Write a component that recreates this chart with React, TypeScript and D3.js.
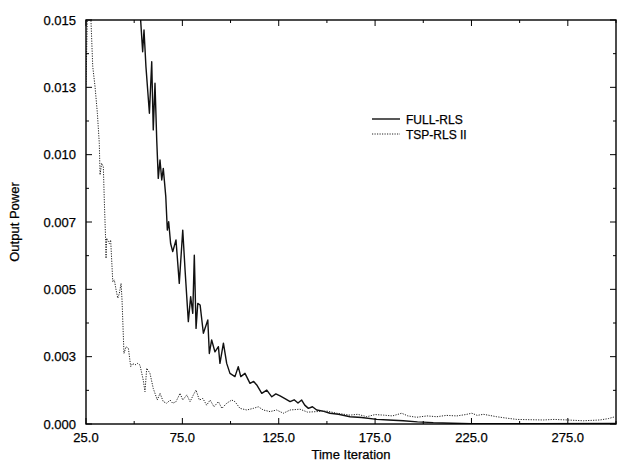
import React from 'react';
import * as d3 from 'd3';

// Values: [time iteration, output power]
const fullRls: [number, number][] = [
  [50, 0.017], [53, 0.0155], [53.4, 0.01494], [54.4, 0.01382], [55.1, 0.01463],
  [56.1, 0.01327], [57.9, 0.01154], [59.1, 0.01345], [59.9, 0.01092], [60.8, 0.01265],
  [61.7, 0.01054], [62.5, 0.00912], [63.4, 0.0098], [64.3, 0.00906], [65.1, 0.00949],
  [66.4, 0.00844], [67.2, 0.0072], [67.9, 0.00751], [68.9, 0.0067], [70, 0.0064],
  [71.7, 0.00683], [73.4, 0.00522], [75.2, 0.0072], [76.4, 0.00572], [78.1, 0.0038],
  [79.3, 0.00473], [80.4, 0.00411], [81.2, 0.00627], [82.1, 0.00355], [83, 0.00448],
  [84.2, 0.00442], [85.9, 0.00337], [88.2, 0.00386], [89, 0.00262], [90.2, 0.00312],
  [91.9, 0.00268], [93.7, 0.00287], [94.5, 0.00225], [96.3, 0.003], [98, 0.00225],
  [99.7, 0.00188], [102.3, 0.00176], [104, 0.00213], [105.3, 0.00176], [107.5, 0.00188],
  [110.1, 0.00151], [112, 0.00158], [113.6, 0.00145], [116.2, 0.00114], [118.8, 0.00126],
  [121.4, 0.00101], [123.5, 0.00112], [125.7, 0.00104], [128, 0.00095], [130.9, 0.00083],
  [133, 0.0009], [135, 0.00078], [136.9, 0.00089], [138.5, 0.0007], [140.4, 0.00058],
  [142.5, 0.00064], [144.7, 0.00052], [148, 0.00048], [151.6, 0.0004], [156, 0.00036],
  [162, 0.00027], [168, 0.00024], [175.9, 0.00017], [182, 0.00015], [189.6, 0.00012],
  [197, 0.00008], [205.2, 0.00005], [215, 0.00003], [225, 0.00001], [260, 0.00001],
  [300, 0.00002],
];

const tspRls: [number, number][] = [
  [25, 0.0126], [26, 0.0162], [27.6, 0.01494], [28.5, 0.01327], [29.7, 0.01252],
  [30.9, 0.01154], [31.9, 0.01042], [32.3, 0.00925], [33.1, 0.00968], [34, 0.00955],
  [34.5, 0.0083], [35.2, 0.0068], [35.4, 0.00615], [35.7, 0.0069], [37.1, 0.0067],
  [37.8, 0.00683], [38.9, 0.00528], [39.7, 0.00535], [40.6, 0.00498], [41.5, 0.00467],
  [42.3, 0.00485], [43.2, 0.00522], [43.7, 0.0046], [44.7, 0.00262], [45.8, 0.00287],
  [47, 0.00281], [48.2, 0.00213], [49.2, 0.00225], [50.4, 0.00219], [51.6, 0.00225],
  [53, 0.00219], [54.7, 0.00163], [55.6, 0.0012], [56.5, 0.00207], [58.2, 0.00188],
  [59.9, 0.00132], [62, 0.00089], [63.4, 0.00114], [65.1, 0.00083], [66.9, 0.00077],
  [68.6, 0.00089], [70, 0.00077], [71.7, 0.00083], [73.8, 0.00114], [75.2, 0.00089],
  [77.3, 0.00108], [79, 0.00083], [80.7, 0.00108], [82.1, 0.00126], [83.8, 0.00089],
  [85.6, 0.00095], [87.6, 0.0007], [89.4, 0.00089], [91.4, 0.00064], [93.7, 0.00083],
  [95.5, 0.00058], [98, 0.00077], [100.6, 0.00089], [102.3, 0.00083], [104.9, 0.00058],
  [108.4, 0.00052], [111.8, 0.00058], [114.4, 0.00064], [117, 0.00052], [120.5, 0.00046],
  [123.9, 0.00052], [127.4, 0.0004], [130.9, 0.00052], [136, 0.00055], [140, 0.00044],
  [144.7, 0.00046], [150, 0.00048], [155, 0.0004], [162, 0.00033], [166, 0.00036],
  [170.7, 0.00027], [175, 0.00035], [179.3, 0.00033], [184, 0.0003], [188.8, 0.0004],
  [192, 0.0003], [196.6, 0.00025], [202, 0.0003], [207, 0.00027], [212, 0.00032],
  [217.4, 0.0003], [222, 0.00035], [225.2, 0.0004], [228, 0.00032], [231.2, 0.00036],
  [238.1, 0.00027], [243, 0.00022], [248.5, 0.00017], [255, 0.00016], [262.3, 0.00015],
  [268, 0.00017], [274.5, 0.00015], [283.1, 0.00012], [291.7, 0.00015], [296, 0.0002],
  [299.5, 0.00027],
];

const xTicks = [25, 50, 75, 100, 125, 150, 175, 200, 225, 250, 275, 300];
const xTickLabels = ['25.0', '75.0', '125.0', '175.0', '225.0', '275.0'];
const xLabelValues = [25, 75, 125, 175, 225, 275];
const yTicks = [0, 0.00125, 0.0025, 0.00375, 0.005, 0.00625, 0.0075, 0.00875, 0.01, 0.01125, 0.0125, 0.01375, 0.015];
const yTickLabels = ['0.000', '0.003', '0.005', '0.007', '0.010', '0.013', '0.015'];
const yLabelValues = [0, 0.0025, 0.005, 0.0075, 0.01, 0.0125, 0.015];
const seriesNames = ['FULL-RLS', 'TSP-RLS II'];

const W = 617;
const H = 463;
const left = 86;
const right = 616;
const top = 20;
const bottom = 424;
const font = '"Liberation Sans", Arial, Helvetica, sans-serif';

export default function App() {
  const x = d3.scaleLinear().domain([25, 300]).range([left, right]);
  const y = d3.scaleLinear().domain([0, 0.015]).range([bottom, top]);
  const line = d3
    .line<[number, number]>()
    .x(d => x(d[0]))
    .y(d => y(d[1]));

  const isMajorX = (v: number) => xLabelValues.includes(v);
  const isMajorY = (v: number) => yLabelValues.some(m => Math.abs(m - v) < 1e-9);

  // scanned print: text a touch heavier than plain regular
  const textStyle = { fill: '#000', stroke: '#000', strokeWidth: 0.25 };

  return (
    <svg
      width={W}
      height={H}
      style={{ position: 'absolute', left: 0, top: 0, background: '#fff' }}
      fontFamily={font}
    >
      <defs>
        <clipPath id="plot">
          <rect x={left} y={top} width={right - left} height={bottom - top} />
        </clipPath>
      </defs>

      {/* curves */}
      <g clipPath="url(#plot)" fill="none">
        <path d={line(fullRls) || ''} stroke="#111" strokeWidth={1.4} strokeLinejoin="round" />
        <path d={line(tspRls) || ''} stroke="#222" strokeWidth={1} strokeDasharray="1.2,1.3" />
      </g>

      {/* frame */}
      <rect x={left} y={top} width={right - left} height={bottom - top} fill="none" stroke="#000" strokeWidth={1.4} />

      {/* x ticks, bottom and top, pointing inward */}
      {xTicks.map(v => {
        const len = isMajorX(v) ? 6 : 3;
        return (
          <g key={'xt' + v} stroke="#000" strokeWidth={1}>
            <line x1={x(v)} x2={x(v)} y1={bottom} y2={bottom - len} />
            <line x1={x(v)} x2={x(v)} y1={top} y2={top + len} />
          </g>
        );
      })}
      {xLabelValues.map((v, i) => (
        <text key={'xl' + v} x={x(v)} y={bottom + 18} textAnchor="middle" fontSize={13} style={textStyle}>
          {xTickLabels[i]}
        </text>
      ))}

      {/* y ticks, left and right */}
      {yTicks.map(v => {
        const len = isMajorY(v) ? 6 : 3;
        return (
          <g key={'yt' + v} stroke="#000" strokeWidth={1}>
            <line x1={left} x2={left + len} y1={y(v)} y2={y(v)} />
            <line x1={right} x2={right - len} y1={y(v)} y2={y(v)} />
          </g>
        );
      })}
      {yLabelValues.map((v, i) => (
        <text key={'yl' + v} x={left - 10} y={y(v) + 4.5} textAnchor="end" fontSize={13} style={textStyle}>
          {yTickLabels[i]}
        </text>
      ))}

      {/* axis titles */}
      <text x={(left + right) / 2} y={H - 4} textAnchor="middle" fontSize={13} style={textStyle}>
        Time Iteration
      </text>
      <text
        transform={`translate(19, ${(top + bottom) / 2}) rotate(-90)`}
        textAnchor="middle"
        fontSize={13}
        style={textStyle}
      >
        Output Power
      </text>

      {/* legend */}
      <g>
        <line x1={372} x2={400} y1={119} y2={119} stroke="#111" strokeWidth={1.4} />
        <text x={406} y={123.5} fontSize={12} style={textStyle}>{seriesNames[0]}</text>
        <line x1={372} x2={400} y1={134} y2={134} stroke="#222" strokeWidth={1} strokeDasharray="1.2,1.3" />
        <text x={406} y={138.5} fontSize={12} style={textStyle}>{seriesNames[1]}</text>
      </g>
    </svg>
  );
}
